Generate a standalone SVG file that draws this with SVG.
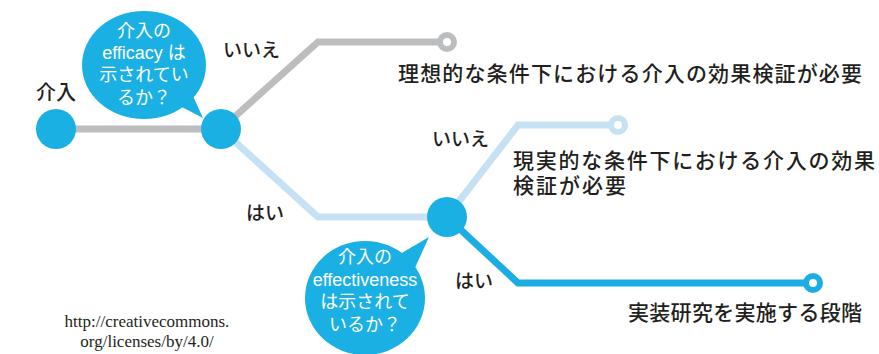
<svg xmlns="http://www.w3.org/2000/svg" width="879" height="354" viewBox="0 0 879 354">
<style>
.ln{fill:none;stroke-width:7;stroke-linejoin:miter}
.g{stroke:#bcbdbf}
.lb{stroke:#c6e1f4}
.b{stroke:#1badE4}
.node{fill:#1bb0e4}
.ring{fill:#fff;stroke-width:6}
.lbl{font-family:"Noto Sans CJK JP","Noto Sans",sans-serif;fill:#231f20;font-weight:500}
.bt{font-family:"Liberation Sans","Noto Sans CJK JP",sans-serif;fill:#fff;font-size:18px;text-anchor:middle}
.lic{font-family:"Liberation Serif",serif;fill:#231f20;font-size:17px;text-anchor:middle}
</style>
<g id="connectors">
<polyline class="ln g" points="56,129 221,129 318,42 440,42"/>
<polyline class="ln lb" points="221,129 318,217 447,217 518,125 612,125"/>
<polyline class="ln b" points="447,217 518,283 806,283"/>
</g>
<g id="end-ideal"><circle class="ring g" cx="447" cy="42" r="7"/></g>
<g id="end-real"><circle class="ring lb" cx="618" cy="125" r="7"/></g>
<g id="end-impl"><circle class="ring b" cx="813" cy="283" r="7"/></g>
<g id="node-start">
<circle class="node" cx="56" cy="129" r="20"/>
<text class="lbl" x="56" y="100" font-size="20" font-weight="bold" text-anchor="middle">介入</text>
</g>
<g id="node-efficacy">
<circle class="node" cx="221" cy="129" r="20"/>
</g>
<g id="bubble-efficacy">
<ellipse class="node" cx="144" cy="65" rx="62" ry="54"/>
<polygon class="node" points="176,104 203,118 192,94"/>
<text class="bt" x="144" y="37">介入の</text>
<text class="bt" x="144" y="59">efficacy は</text>
<text class="bt" x="144" y="81">示されてい</text>
<text class="bt" x="144" y="104">るか？</text>
</g>
<g id="node-effectiveness">
<circle class="node" cx="447" cy="217" r="20"/>
</g>
<g id="bubble-effectiveness">
<ellipse class="node" cx="365" cy="298" rx="60" ry="57"/>
<polygon class="node" points="400,254 429,237 414,270"/>
<text class="bt" x="365" y="263">介入の</text>
<text class="bt" x="365" y="286">effectiveness</text>
<text class="bt" x="365" y="308">は示されて</text>
<text class="bt" x="365" y="331">いるか？</text>
</g>
<g id="labels">
<text class="lbl" x="223" y="57" font-size="19">いいえ</text>
<text class="lbl" x="432" y="146" font-size="19">いいえ</text>
<text class="lbl" x="246" y="220" font-size="19">はい</text>
<text class="lbl" x="455" y="288" font-size="19">はい</text>
</g>
<g id="outcome-ideal"><text class="lbl" x="398" y="81" font-size="21" textLength="464">理想的な条件下における介入の効果検証が必要</text></g>
<g id="outcome-real">
<text class="lbl" x="513" y="168" font-size="21" textLength="362">現実的な条件下における介入の効果</text>
<text class="lbl" x="513" y="193" font-size="21" textLength="113">検証が必要</text>
</g>
<g id="outcome-impl"><text class="lbl" x="628" y="320" font-size="21" textLength="234">実装研究を実施する段階</text></g>
<g id="license">
<text class="lic" x="147" y="327">http://creativecommons.</text>
<text class="lic" x="147" y="347">org/licenses/by/4.0/</text>
</g>
</svg>
